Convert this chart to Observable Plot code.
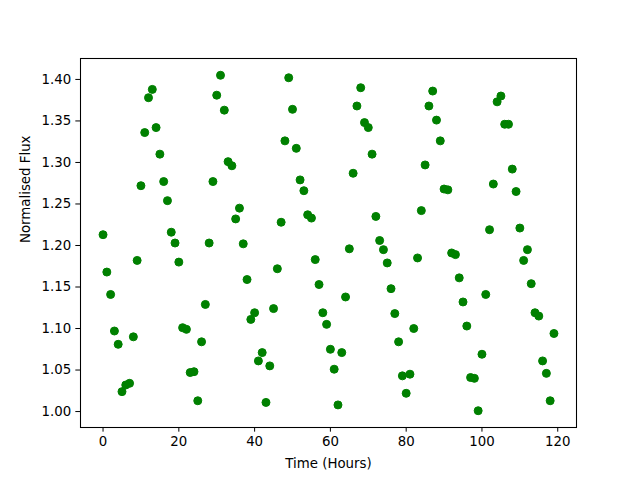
<!DOCTYPE html>
<html>
<head>
<meta charset="utf-8">
<script src="https://cdn.jsdelivr.net/npm/d3@7"></script>
<script src="https://cdn.jsdelivr.net/npm/@observablehq/plot@0.6"></script>
<style>
  html, body { margin: 0; padding: 0; background: #fff; }
</style>
</head>
<body>
<div id="chart"></div>
<script>
// Time in hours (one sample per hour)
const hours = d3.range(0, 120);
// Normalised flux
const flux = [
  1.213, 1.168, 1.141, 1.097, 1.081, 1.024, 1.032, 1.034, 1.090, 1.182,
  1.272, 1.336, 1.378, 1.388, 1.342, 1.310, 1.277, 1.254, 1.216, 1.203,
  1.180, 1.101, 1.099, 1.047, 1.048, 1.013, 1.084, 1.129, 1.203, 1.277,
  1.381, 1.405, 1.363, 1.301, 1.296, 1.232, 1.245, 1.202, 1.159, 1.111,
  1.119, 1.061, 1.071, 1.011, 1.055, 1.124, 1.172, 1.228, 1.326, 1.402,
  1.364, 1.317, 1.279, 1.266, 1.237, 1.233, 1.183, 1.153, 1.119, 1.105,
  1.075, 1.051, 1.008, 1.071, 1.138, 1.196, 1.287, 1.368, 1.390, 1.348,
  1.342, 1.310, 1.235, 1.206, 1.195, 1.179, 1.148, 1.118, 1.084, 1.043,
  1.022, 1.045, 1.100, 1.185, 1.242, 1.297, 1.368, 1.386, 1.351, 1.326,
  1.268, 1.267, 1.191, 1.189, 1.161, 1.132, 1.103, 1.041, 1.040, 1.001,
  1.069, 1.141, 1.219, 1.274, 1.373, 1.380, 1.346, 1.346, 1.292, 1.265,
  1.221, 1.182, 1.195, 1.154, 1.119, 1.115, 1.061, 1.046, 1.013, 1.094
];
const xTicks = [0, 20, 40, 60, 80, 100, 120];
const yTicks = [1.00, 1.05, 1.10, 1.15, 1.20, 1.25, 1.30, 1.35, 1.40];

const data = hours.map((h, i) => ({hour: h, flux: flux[i]}));

function padded(vals) {
  const [lo, hi] = d3.extent(vals);
  const m = (hi - lo) * 0.05;
  return [lo - m, hi + m];
}

const pt = 4 / 3;
const chart = Plot.plot({
  width: 640,
  height: 480,
  marginLeft: 80,
  marginRight: 64,
  marginTop: 58,
  marginBottom: 53,
  style: {fontFamily: "DejaVu Sans", fontSize: "13.33px", color: "black", background: "white"},
  x: {domain: padded(hours)},
  y: {domain: padded(flux)},
  marks: [
    Plot.dot(data, {x: "hour", y: "flux", r: 4, fill: "green", stroke: "green", strokeWidth: 1}),
    Plot.frame({stroke: "black", strokeWidth: 0.8 * pt}),
    Plot.axisX({ticks: xTicks, tickSize: 3.5 * pt, tickPadding: 3.5 * pt, label: null, fontSize: 13.33, tickFormat: d => String(d)}),
    Plot.axisY({ticks: yTicks, tickSize: 3.5 * pt, tickPadding: 3.5 * pt, label: null, fontSize: 13.33, tickFormat: d => d.toFixed(2)}),
    Plot.text(["Time (Hours)"], {frameAnchor: "bottom", dy: 36, lineAnchor: "middle", fontSize: 13.33, fill: "black"}),
    Plot.text(["Normalised Flux"], {frameAnchor: "left", dx: -55, rotate: -90, lineAnchor: "middle", fontSize: 13.33, fill: "black"})
  ]
});
document.getElementById("chart").appendChild(chart);
</script>
</body>
</html>
